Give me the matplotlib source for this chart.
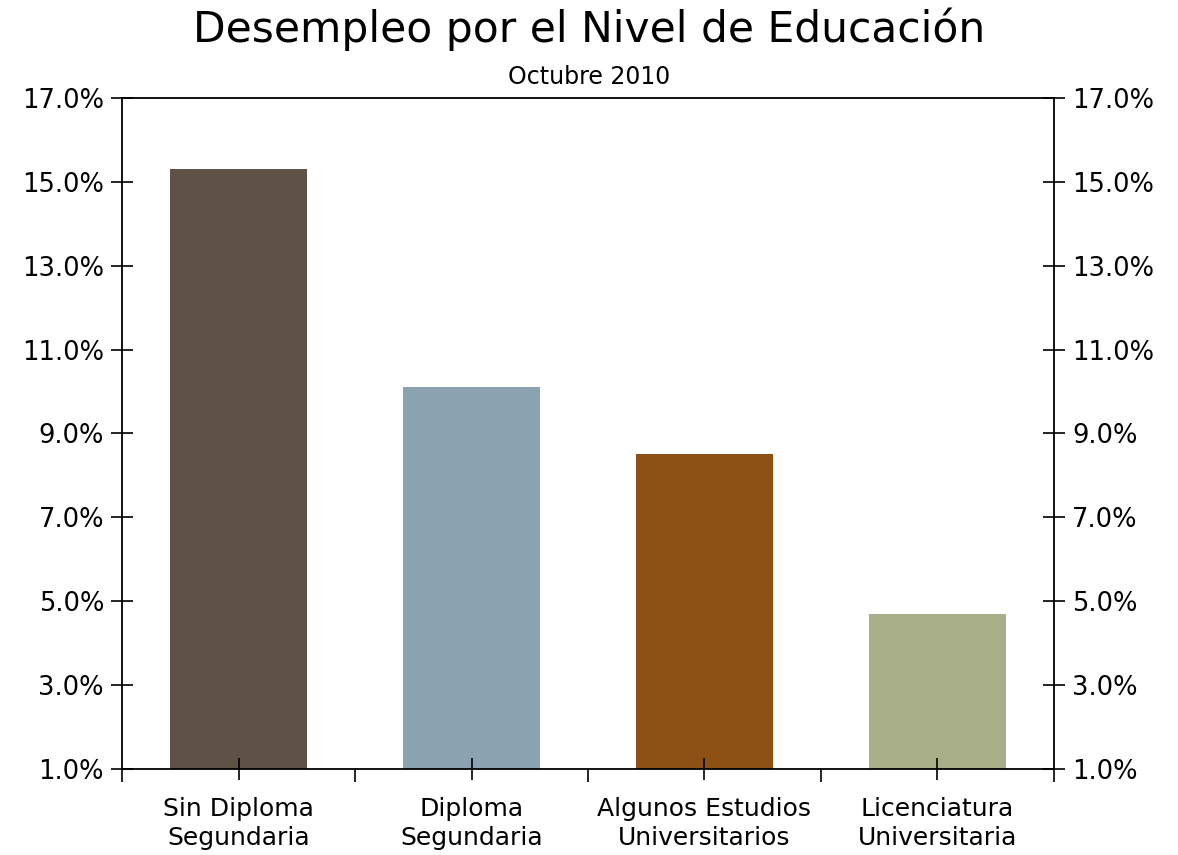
import numpy as np
import matplotlib.pyplot as plt
from matplotlib.ticker import FixedLocator, PercentFormatter

categories = ['Sin Diploma\nSegundaria', 'Diploma\nSegundaria',
              'Algunos Estudios\nUniversitarios', 'Licenciatura\nUniversitaria']
rates = [15.3, 10.1, 8.5, 4.7]
colors = ['#5E5246', '#8BA2B1', '#8E5114', '#A9AF88']
yticks = [1, 3, 5, 7, 9, 11, 13, 15, 17]

plt.rcParams['font.family'] = ['DejaVu Sans']

fig = plt.figure(figsize=(11.78, 8.55), dpi=100)
ax = fig.add_axes([0.1036, 0.1006, 0.7911, 0.7848])

x = np.arange(len(categories))
ax.bar(x, [r - 1 for r in rates], bottom=1, width=0.59, color=colors)

ax.set_xlim(-0.5, len(categories) - 0.5)
ax.set_ylim(1, 17)

# category labels at centres, boundary ticks between
ax.xaxis.set_major_locator(FixedLocator(np.arange(-0.5, len(categories), 1.0)))
ax.xaxis.set_minor_locator(FixedLocator(x))
ax.set_xticklabels([])
ax.set_xticklabels(categories, minor=True, fontsize=18, linespacing=1.3)
ax.tick_params(axis='x', which='major', direction='out', length=9, width=1.2)
ax.tick_params(axis='x', which='minor', direction='inout', length=16, width=1.2, pad=12)

ax.set_yticks(yticks)
ax.yaxis.set_major_formatter(PercentFormatter(decimals=1))
ax.tick_params(axis='y', which='major', direction='inout', length=16, width=1.2,
               labelsize=18.5, right=True, labelright=True, pad=5)

for s in ax.spines.values():
    s.set_linewidth(1.3)

fig.text(0.5, 0.966, 'Desempleo por el Nivel de Educación', ha='center', va='center', fontsize=30.5)
fig.text(0.5, 0.91, 'Octubre 2010', ha='center', va='center', fontsize=17)

fig.savefig('out.png', dpi=100)
